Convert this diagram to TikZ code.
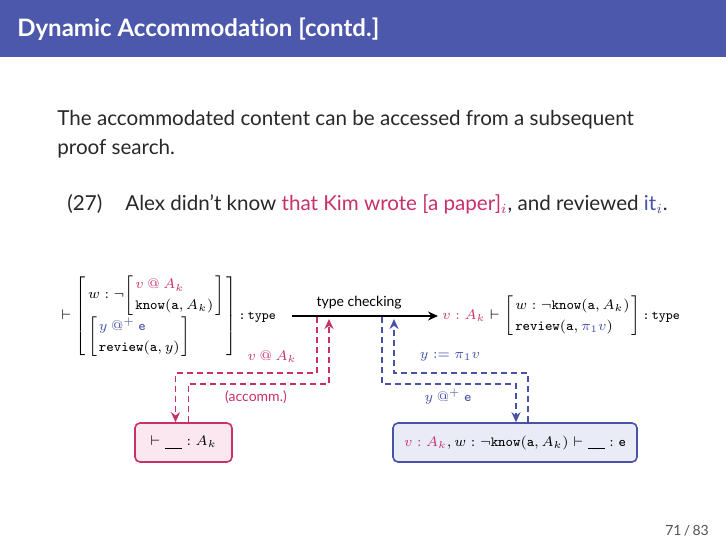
\documentclass[tikz,border=0pt]{standalone}
\usepackage[no-math]{fontspec}
\setmainfont{Lato}[Ligatures=NoCommon]
\usepackage{amsmath}
\usetikzlibrary{arrows.meta,calc}

\definecolor{barblue}{RGB}{76,88,172}
\definecolor{accpink}{RGB}{200,48,106}
\definecolor{ctxblue}{RGB}{72,82,168}
\definecolor{bodygray}{RGB}{40,40,40}
\definecolor{accfill}{RGB}{251,231,239}
\definecolor{ctxfill}{RGB}{233,235,247}

\newcommand{\ttm}[1]{\mathtt{#1}}
\newcommand{\gap}{\underline{\hspace{1.3em}}}

\tikzset{
  bodytext/.style={inner sep=0pt,text=bodygray,font=\fontsize{10.3}{12}\selectfont},
  dia/.style={inner sep=0pt,font=\fontsize{7}{8.5}\selectfont},
  diamath/.style={inner sep=0pt,font=\fontsize{6.6}{8}\selectfont},
  accline/.style={accpink,line width=0.9pt,dash pattern=on 3pt off 2pt},
  ctxline/.style={ctxblue,line width=0.9pt,dash pattern=on 3pt off 2pt},
  goalbox/.style={draw,rounded corners=2.5pt,line width=0.8pt,minimum height=19.5pt,
    inner sep=2pt,font=\fontsize{6.6}{8}\selectfont},
}

\begin{document}
\begin{tikzpicture}[x=0.5pt,y=-0.5pt,>={Stealth[length=5pt,width=4.5pt]}]
\useasboundingbox (0,0) rectangle (726,544);
\fill[white] (0,0) rectangle (726,544);
\fill[barblue] (0,0) rectangle (726,57);
\node[anchor=base west,inner sep=0pt,text=white,font=\fontsize{12}{14}\selectfont\bfseries] (title) at (17,37) {Dynamic Accommodation [contd.]};

% text above the diagram
\node[bodytext,anchor=base west] (intro) at (57,126) {The accommodated content can be accessed from a subsequent};
\node[bodytext,anchor=base west] (intro2) at (57,155) {proof search.};
\node[bodytext,anchor=base west] (exnum) at (67,211) {(27)};
\node[bodytext,anchor=base west] (example) at (125,211) {Alex didn't know \textcolor{accpink}{that Kim wrote [a paper]$_i$}, and reviewed \textcolor{ctxblue}{it$_i$}.};

% the two judgements
\node[diamath,anchor=west] (lhs) at (61,316) {\arraycolsep=1pt\renewcommand{\arraystretch}{1.3}$\vdash\left[\begin{array}{l}
  w:\neg\!\left[\begin{array}{l}\color{accpink}v\mathbin{@}A_k\\ \ttm{know}(\ttm{a},A_k)\end{array}\right]\\[2pt]
  \left[\begin{array}{l}\color{ctxblue}y\mathbin{@^{+}}\ttm{e}\\ \ttm{review}(\ttm{a},y)\end{array}\right]
  \end{array}\right]$\,\texttt{:\,type}};
\node[diamath,anchor=west] (rhs) at (442,316) {\arraycolsep=1pt\renewcommand{\arraystretch}{1.3}$\color{accpink}v:A_k\color{black}\vdash\left[\begin{array}{l}
  w:\neg\ttm{know}(\ttm{a},A_k)\\ \ttm{review}(\ttm{a},{\color{ctxblue}\pi_1v})\end{array}\right]$\,\texttt{:\,type}};
\draw[->,line width=0.6pt,shorten <=8pt,shorten >=2pt] (lhs.east) -- (lhs.east -| rhs.west)
  node[dia,pos=0.5,above=3pt] (tclabel) {type checking};

% the two proof searches
\node[goalbox,draw=accpink,fill=accfill,minimum width=48.5pt] (acc) at (183.5,442.5) {$\vdash\gap:A_k$};
\node[goalbox,draw=ctxblue,fill=ctxfill,minimum width=122pt] (ctx) at (515,442.5)
  {$\color{accpink}v:A_k\color{black},w:\neg\ttm{know}(\ttm{a},A_k)\vdash\gap:\ttm{e}$};

\coordinate (qa) at (317,317);
\coordinate (ra) at (329,319);
\coordinate (qc) at (382,317);
\coordinate (rc) at (394,319);

\draw[accline,->] (qa) -- ($(qa)+(0,56)$) -| ($(acc.north)+(-8,0)$);
\draw[accline,->] ($(acc.north)+(5,0)$) |- ($(ra)+(0,65)$) -- (ra);
\draw[ctxline,->] (qc) -- ($(qc)+(0,67)$) -| ($(ctx.north)+(1,0)$);
\draw[ctxline,->] ($(ctx.north)+(13,0)$) |- ($(rc)+(0,54)$) -- (rc);

\node[diamath,text=accpink] (qalabel) at (272,357) {$v\mathbin{@}A_k$};
\node[dia,text=accpink] (ralabel) at (256,397) {(accomm.)};
\node[diamath,text=ctxblue] (rclabel) at (450,357) {$y\mathrel{:=}\pi_1v$};
\node[diamath,text=ctxblue] (qclabel) at (448,397) {$y\mathbin{@^{+}}\ttm{e}$};

\node[inner sep=0pt,anchor=base,text=bodygray!80,font=\fontsize{7}{8}\selectfont] (pageno) at (687,535) {71\,/\,83};
\end{tikzpicture}
\end{document}
